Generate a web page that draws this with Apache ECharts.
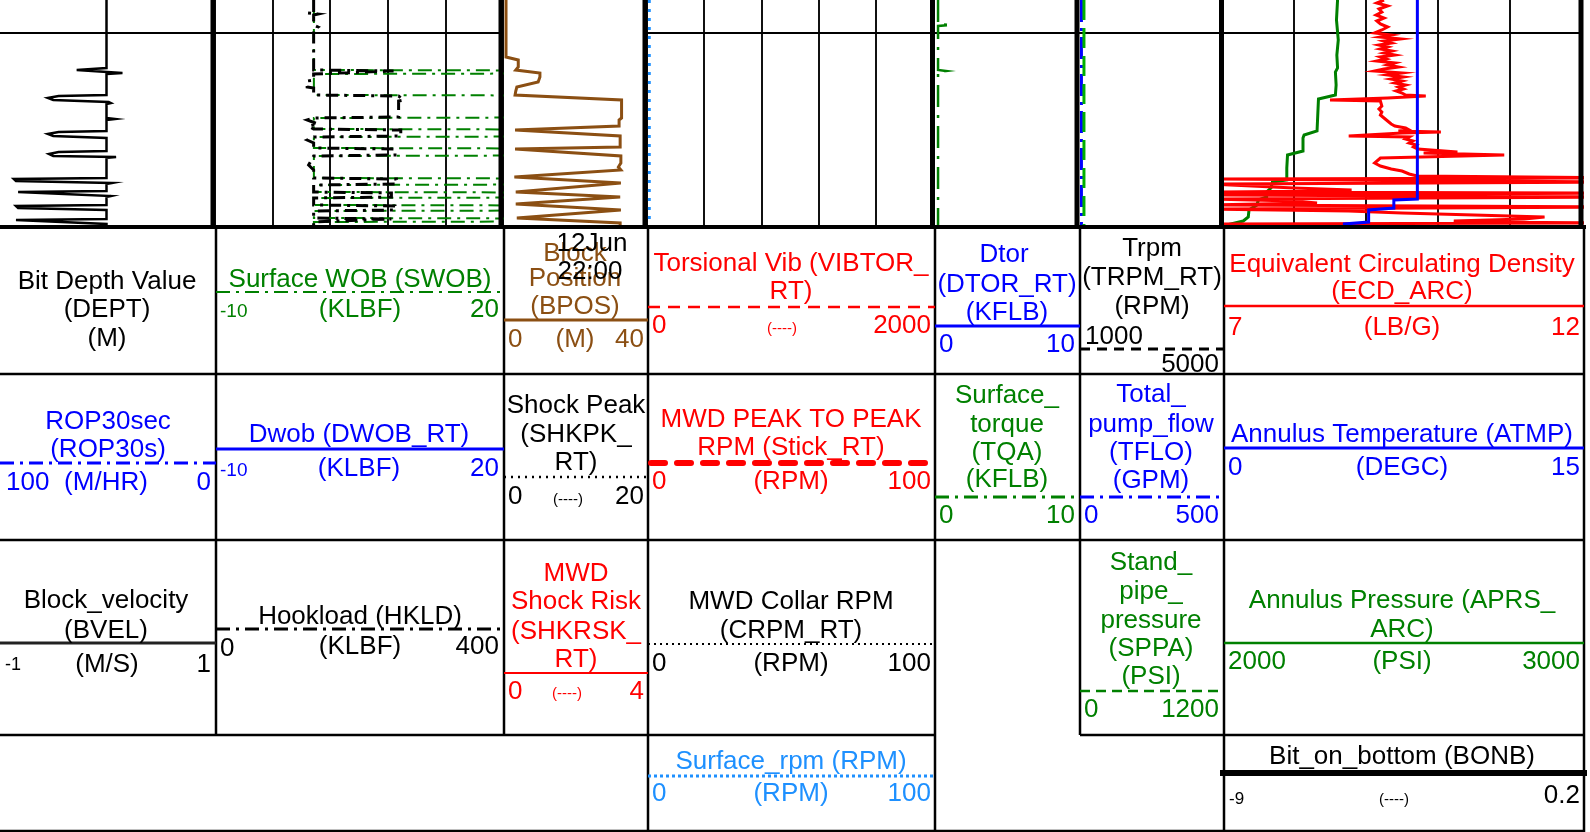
<!DOCTYPE html>
<html><head><meta charset="utf-8">
<script src="https://cdn.jsdelivr.net/npm/echarts@6/dist/echarts.min.js"></script>
<style>html,body{margin:0;padding:0;background:#fff;overflow:hidden}#c{width:1590px;height:832px}</style>
</head><body><div id="c"></div>
<script>
// ===== DATA (row = record index, 0 = top of the plotted interval, 225 = bottom) =====
const ROW_MIN = 0, ROW_MAX = 225;
const TIME_LINE_ROWS = [33];               // "12Jun 22:00" time line

// Track 1: Block velocity (M/S), scale -1..1   [row, value]
const BVEL = [[0,0],[68,0],[70,-0.28],[72,-0.29],[73,0.15],[74,0],
  [95,0],[96,-0.45],[98,-0.55],[100,-0.5],[102,0.02],[103,0.04],[104,0],
  [118,0],[119,0.08],[120,0],
  [131,0],[132,-0.45],[134,-0.55],[136,-0.5],[138,0],
  [151,0],[152,-0.45],[154,-0.54],[156,-0.5],[157,0.09],[158,0],
  [178,0],[179,-0.87],[181,-0.85],[183,0.05],[184,0],
  [191,0],[192,-0.83],[194,-0.83],[196,0.04],[197,0],
  [205,0],[206,-0.85],[208,-0.83],[210,0],
  [219,0],[220,-0.85],[222,-0.85],[224,0],[225,0]];

// Track 2: Surface WOB (KLBF) -10..20, Hookload (KLBF) 0..400
const SWOB = [[0,0.3],[70,0.3],[70.5,25],[73.5,25],[74,0.3],[95,0.3],[95.5,25],[117.5,25],[118,0.3],
  [129,0.3],[129.5,25],[136.5,25],[137,0.3],[148,0.3],[148.5,25],[155.5,25],[156,0.3],
  [178,0.3],[178.5,25],[184.5,25],[185,0.3],[192,0.3],[192.5,25],[197.5,25],[198,0.3],
  [205,0.3],[205.5,25],[210.5,25],[211,0.3],[218,0.3],[218.5,25],[221.5,25],[222,0.3],[225,0.3]];
const HKLD = [[0,137],[12,137],[13,129],[14,143],[15,137],[25,137],[27,143],[30,137],[70,137],
  [71,248],[73,248],[74,137],[80,137],[81,128],[87,128],[88,137],[95,137],[96,255],[100,262],[101,255],[117,255],[118,137],
  [120,128],[124,143],[126,130],[129,137],[130,258],[136,258],[137,137],[140,128],[143,137],
  [148,137],[149,250],[155,250],[156,137],[165,130],[170,137],[178,137],[179,252],[184,252],[185,137],
  [192,137],[193,245],[197,245],[198,137],[205,137],[206,250],[210,250],[211,137],
  [218,137],[219,245],[221,245],[222,137],[225,137]];

// Track 3: Block position (M) 0..40
const BPOS = [[0,0.85],[57,0.85],[60,4.3],[67,4.3],[70,3.6],[73,10.4],[77,10.4],[79,9.9],[82,9.9],
  [87,3.9],[91,3.6],[95,3.4],[100,33.4],[118,33.4],[120,32.7],[126,32.7],[130,3.4],[136,33.0],
  [147,33.0],[149,3.4],[156,33.2],[163,33.2],[167,32.5],[170,33.2],[177,3.2],[183,33.2],
  [192,3.6],[197,33.0],[204,3.6],[210,33.2],[218,3.9],[223,33.0],[225,33.0]];

// Track 4: Surface rpm (RPM) 0..100
const SRPM = [[0,0.8],[225,0.8]];

// Track 5: Surface torque (KFLB) 0..10
const TQA = [[0,0.35],[24,0.35],[25,1.25],[26,0.35],[70,0.35],[71,0.9],[72,0.35],[225,0.35]];

// Track 6: Total pump flow (GPM) 0..500, Standpipe pressure (PSI) 0..1200
const TFLO = [[0,12],[225,12]];
const SPPA = [[0,50],[225,50]];

// Track 7: ECD (LB/G) 7..12, Annulus temperature (DEGC) 0..15, Annulus pressure (PSI) 2000..3000
const ATMP = [[0,8.14],[199,8.14],[200,7.16],[208,7.16],[210,6.11],[222,6.11],[224,5.1],[225,5.1]];
const APRS = [[0,2321],[20,2318],[40,2323],[55,2319],[68,2321],[72,2315],[85,2317],[95,2315],[99,2268],
  [101,2264],[115,2266],[131,2264],[135,2228],[138,2225],[151,2225],[155,2182],[168,2180],[180,2180],
  [182,2140],[188,2136],[192,2124],[197,2124],[200,2101],[205,2097],[210,2075],[217,2073],[221,2059],[225,2013]];
const ECD = [[0,9.25],[3,9.15],[6,9.3],[9,9.18],[12,9.22],[15,9.14],[18,9.25],[21,9.15],[24,9.2],[27,9.3],
  [30,9.22],[33,9.12],[35,9.35],[37,9.2],[39,9.48],[41,9.25],[43,9.35],[45,9.18],[47,9.3],[49,9.2],
  [51,9.36],[53,9.25],[55,9.4],[57,9.2],[59,9.28],[61,9.15],[63,9.4],[65,9.3],[67,9.45],[69,9.25],
  [71,9.12],[73,9.5],[75,9.3],[77,9.52],[79,9.35],[81,9.5],[83,9.4],[85,9.55],[87,9.45],[89,9.52],
  [91,9.42],[93,9.5],[95,9.55],[96,9.83],[98,9.3],[100,8.5],[101,9.2],[103,9.2],[106,9.22],[109,9.18],
  [112,9.22],[115,9.2],[118,9.25],[121,9.3],[124,9.35],[126,9.4],[128,9.55],[130,9.6],[131,9.45],
  [132,10.04],[133,9.5],[136,8.76],[137,9.6],[139,9.55],[141,9.65],[143,9.6],[145,9.7],[147,9.66],
  [149,9.72],[150,9.7],[152,10.27],[153,9.8],[155,10.92],[158,9.2],[160,9.18],[163,9.12],[166,9.2],
  [169,9.35],[171,9.5],[174,9.6],[176,9.71],[178,12.6],[179,6.8],[181,6.8],[182,12.6],[183,12.6],
  [184,6.8],[186,6.8],[188,8.0],[190,8.8],[191,8.5],[192,6.8],[193,12.6],[195,6.8],[197,12.6],
  [199,6.8],[201,8.0],[203,8.32],[204,7.5],[205,6.8],[207,12.6],[208,12.6],[209,6.8],
  [211,8.76],[213,9.5],[215,10.5],[217,11.48],[219,11.2],[221,10.22],
  [222,10.3],[223,12.6],[224,6.8],[225,7.9]];

// ===== LAYOUT / STYLE =====
const FONT = '"Liberation Sans", Arial, sans-serif';
const FS = 26;
const GREEN = '#008000', RED = '#ff0000', BLUE = '#0000ff', BROWN = '#8b4f13', SKY = '#1e90ff', BLACK = '#000';
const DASHDOT = [14, 6, 3, 6];
const TRACKS = [
  {left:0, width:213, div:0, hline:true},
  {left:215, width:288, div:5, hline:true},
  {left:503, width:142, div:0, hline:false},
  {left:647, width:286, div:5, hline:true},
  {left:933, width:144, div:0, hline:true},
  {left:1078, width:143, div:0, hline:true},
  {left:1222, width:360, div:5, hline:true}
];
const CURVES = [
  {track:0, data:BVEL, min:-1, max:1, color:BLACK, width:2.5, dash:'solid'},
  {track:1, data:SWOB, min:-10, max:20, color:GREEN, width:2, dash:[14,6,3,6]},
  {track:1, data:HKLD, min:0, max:400, color:BLACK, width:3, dash:[12,6,3,6]},
  {track:2, data:BPOS, min:0, max:40, color:BROWN, width:3, dash:'solid'},
  {track:3, data:SRPM, min:0, max:100, color:SKY, width:3, dash:[3,6]},
  {track:4, data:TQA, min:0, max:10, color:GREEN, width:2.5, dash:[22,8,3,8]},
  {track:5, data:TFLO, min:0, max:500, color:BLUE, width:3, dash:[22,6,3,6]},
  {track:5, data:SPPA, min:0, max:1200, color:'#00b000', width:3, dash:[20,8]},
  {track:6, data:APRS, min:2000, max:3000, color:GREEN, width:3, dash:'solid'},
  {track:6, data:ECD, min:7, max:12, color:RED, width:3, dash:'solid'},
  {track:6, data:ATMP, min:0, max:15, color:BLUE, width:3, dash:'solid'}
];

const grid = [], xAxis = [], yAxis = [], series = [];
TRACKS.forEach((t, i) => {
  grid.push({left:t.left, top:0, width:t.width, height:225, show:false});
  yAxis.push({gridIndex:i, type:'value', min:ROW_MIN, max:ROW_MAX, inverse:true, show:false});
  xAxis.push({gridIndex:i, type:'value', min:0, max:t.div || 1, interval:1, position:'top',
    axisLine:{show:false}, axisTick:{show:false}, axisLabel:{show:false},
    splitLine:{show:t.div > 0, lineStyle:{color:'#111', width:2}}});
});
const lineMarked = {};
CURVES.forEach(c => {
  const xi = xAxis.length;
  xAxis.push({gridIndex:c.track, type:'value', min:c.min, max:c.max, show:false});
  const s = {type:'line', xAxisIndex:xi, yAxisIndex:c.track, data:c.data.map(p => [p[1], p[0]]),
    symbol:'none', clip:true, animation:false, silent:true, z:3,
    lineStyle:{color:c.color, width:c.width, type:c.dash, cap:'butt', join:'miter'}};
  if (TRACKS[c.track].hline && !lineMarked[c.track]) {
    lineMarked[c.track] = true;
    s.markLine = {silent:true, symbol:'none', animation:false, label:{show:false},
      lineStyle:{color:'#000', width:2, type:'solid'}, z:2,
      data:TIME_LINE_ROWS.map(r => ({yAxis:r}))};
  }
  series.push(s);
});

// ===== graphics: track borders, header table, header texts =====
const G = [];
function L(x1, y1, x2, y2, stroke, w, dash, cap) {
  G.push({type:'line', z:50, silent:true, shape:{x1, y1, x2, y2},
    style:{stroke, lineWidth:w, lineDash:dash || null, lineCap:cap || 'butt'}});
}
function T(x, y, text, fill, size, align) {
  G.push({type:'text', z:60, silent:true, x, y:y + 2,
    style:{text, fill, font:(size || FS) + 'px ' + FONT, textAlign:align || 'center', textVerticalAlign:'middle'}});
}
// track separators
[213, 501, 645, 932.5, 1077, 1221.5, 1581].forEach(x => L(x, 0, x, 229, BLACK, 5));
L(0, 227, 1586, 227, BLACK, 4);
// header table
const TW = 2.5;
L(0, 374, 1584, 374, BLACK, TW); L(0, 540, 1584, 540, BLACK, TW);
L(0, 735, 935, 735, BLACK, TW); L(1080, 735, 1584, 735, BLACK, TW);
L(0, 831, 1584, 831, BLACK, TW);
[[216,735],[504,735],[648,832],[935,832],[1080,735],[1224,832],[1584,832]].forEach(v => L(v[0], 227, v[0], v[1], BLACK, TW));

// column 1
T(107, 280, 'Bit Depth Value', BLACK); T(107, 308, '(DEPT)', BLACK); T(107, 337, '(M)', BLACK);
T(108, 420, 'ROP30sec', BLUE); T(108, 448, '(ROP30s)', BLUE);
L(0, 463, 216, 463, BLUE, 3, DASHDOT);
T(6, 481, '100', BLUE, FS, 'left'); T(106, 481, '(M/HR)', BLUE); T(211, 481, '0', BLUE, FS, 'right');
T(106, 599, 'Block_velocity', BLACK); T(106, 629, '(BVEL)', BLACK);
L(0, 643, 216, 643, '#222', 3);
T(5, 663, '-1', BLACK, 18, 'left'); T(107, 663, '(M/S)', BLACK); T(211, 663, '1', BLACK, FS, 'right');
// column 2
T(360, 278, 'Surface WOB (SWOB)', GREEN);
L(216, 292, 504, 292, GREEN, 2, DASHDOT);
T(220, 310, '-10', GREEN, 19, 'left'); T(360, 308, '(KLBF)', GREEN); T(499, 308, '20', GREEN, FS, 'right');
T(359, 433, 'Dwob (DWOB_RT)', BLUE);
L(216, 449, 504, 449, BLUE, 3);
T(220, 469, '-10', BLUE, 19, 'left'); T(359, 467, '(KLBF)', BLUE); T(499, 467, '20', BLUE, FS, 'right');
T(360, 615, 'Hookload (HKLD)', BLACK);
L(216, 629, 504, 629, BLACK, 3, DASHDOT);
T(220, 647, '0', BLACK, FS, 'left'); T(360, 645, '(KLBF)', BLACK); T(499, 645, '400', BLACK, FS, 'right');
// column 3
T(575, 252, 'Block', BROWN); T(575, 277, 'Position', BROWN); T(575, 305, '(BPOS)', BROWN);
T(592, 242, '12Jun', BLACK); T(590, 270, '22:00', BLACK);
L(504, 320, 648, 320, BROWN, 3);
T(508, 338, '0', BROWN, FS, 'left'); T(575, 338, '(M)', BROWN); T(644, 338, '40', BROWN, FS, 'right');
T(576, 404, 'Shock Peak', BLACK); T(576, 433, '(SHKPK_', BLACK); T(576, 461, 'RT)', BLACK);
L(504, 477, 648, 477, BLACK, 2.5, [2, 5]);
T(508, 495, '0', BLACK, FS, 'left'); T(568, 498, '(----)', BLACK, 15); T(644, 495, '20', BLACK, FS, 'right');
T(576, 572, 'MWD', RED); T(576, 600, 'Shock Risk', RED); T(576, 630, '(SHKRSK_', RED); T(576, 658, 'RT)', RED);
L(504, 673, 648, 673, RED, 2);
T(508, 690, '0', RED, FS, 'left'); T(567, 692, '(----)', RED, 15); T(644, 690, '4', RED, FS, 'right');
// column 4
T(791, 262, 'Torsional Vib (VIBTOR_', RED); T(791, 290, 'RT)', RED);
L(648, 307, 935, 307, RED, 2.5, [12, 8]);
T(652, 324, '0', RED, FS, 'left'); T(782, 327, '(----)', RED, 15); T(931, 324, '2000', RED, FS, 'right');
T(791, 418, 'MWD PEAK TO PEAK', RED); T(791, 446, 'RPM (Stick_RT)', RED);
L(651, 463, 935, 463, RED, 6, [14, 12], 'round');
T(652, 480, '0', RED, FS, 'left'); T(791, 480, '(RPM)', RED); T(931, 480, '100', RED, FS, 'right');
T(791, 600, 'MWD Collar RPM', BLACK); T(791, 629, '(CRPM_RT)', BLACK);
L(648, 644, 935, 644, BLACK, 2, [2, 4]);
T(652, 662, '0', BLACK, FS, 'left'); T(791, 662, '(RPM)', BLACK); T(931, 662, '100', BLACK, FS, 'right');
T(791, 760, 'Surface_rpm (RPM)', SKY);
L(648, 776, 935, 776, SKY, 3, [3, 3]);
T(652, 792, '0', SKY, FS, 'left'); T(791, 792, '(RPM)', SKY); T(931, 792, '100', SKY, FS, 'right');
// column 5
T(1004, 253, 'Dtor', BLUE); T(1007, 283, '(DTOR_RT)', BLUE); T(1007, 311, '(KFLB)', BLUE);
L(935, 326, 1080, 326, BLUE, 3);
T(939, 343, '0', BLUE, FS, 'left'); T(1075, 343, '10', BLUE, FS, 'right');
T(1007, 394, 'Surface_', GREEN); T(1007, 423, 'torque', GREEN); T(1007, 451, '(TQA)', GREEN); T(1007, 478, '(KFLB)', GREEN);
L(935, 497, 1080, 497, GREEN, 3, DASHDOT);
T(939, 514, '0', GREEN, FS, 'left'); T(1075, 514, '10', GREEN, FS, 'right');
// column 6
T(1152, 247, 'Trpm', BLACK); T(1152, 276, '(TRPM_RT)', BLACK); T(1152, 305, '(RPM)', BLACK);
T(1085, 335, '1000', BLACK, FS, 'left');
L(1080, 349, 1224, 349, BLACK, 3, [10, 7]);
T(1219, 363, '5000', BLACK, FS, 'right');
T(1151, 393, 'Total_', BLUE); T(1151, 423, 'pump_flow', BLUE); T(1151, 451, '(TFLO)', BLUE); T(1151, 479, '(GPM)', BLUE);
L(1080, 497, 1224, 497, BLUE, 3, DASHDOT);
T(1084, 514, '0', BLUE, FS, 'left'); T(1219, 514, '500', BLUE, FS, 'right');
T(1151, 561, 'Stand_', GREEN); T(1151, 590, 'pipe_', GREEN); T(1151, 619, 'pressure', GREEN);
T(1151, 647, '(SPPA)', GREEN); T(1151, 675, '(PSI)', GREEN);
L(1080, 691, 1224, 691, GREEN, 2.5, [10, 6]);
T(1084, 708, '0', GREEN, FS, 'left'); T(1219, 708, '1200', GREEN, FS, 'right');
// column 7
T(1402, 263, 'Equivalent Circulating Density', RED); T(1402, 290, '(ECD_ARC)', RED);
L(1224, 306, 1584, 306, RED, 2.5);
T(1228, 326, '7', RED, FS, 'left'); T(1402, 326, '(LB/G)', RED); T(1580, 326, '12', RED, FS, 'right');
T(1402, 433, 'Annulus Temperature (ATMP)', BLUE);
L(1224, 448, 1584, 448, BLUE, 3);
T(1228, 466, '0', BLUE, FS, 'left'); T(1402, 466, '(DEGC)', BLUE); T(1580, 466, '15', BLUE, FS, 'right');
T(1402, 599, 'Annulus Pressure (APRS_', GREEN); T(1402, 628, 'ARC)', GREEN);
L(1224, 643, 1584, 643, GREEN, 2.5);
T(1228, 660, '2000', GREEN, FS, 'left'); T(1402, 660, '(PSI)', GREEN); T(1580, 660, '3000', GREEN, FS, 'right');
T(1402, 755, 'Bit_on_bottom (BONB)', BLACK);
L(1220, 773, 1587, 773, BLACK, 6);
T(1229, 797, '-9', BLACK, 17, 'left'); T(1394, 798, '(----)', BLACK, 15); T(1580, 794, '0.2', BLACK, FS, 'right');

const chart = echarts.init(document.getElementById('c'), null, {renderer:'canvas'});
chart.setOption({animation:false, backgroundColor:'#fff', grid, xAxis, yAxis, series, graphic:G});
</script></body></html>
